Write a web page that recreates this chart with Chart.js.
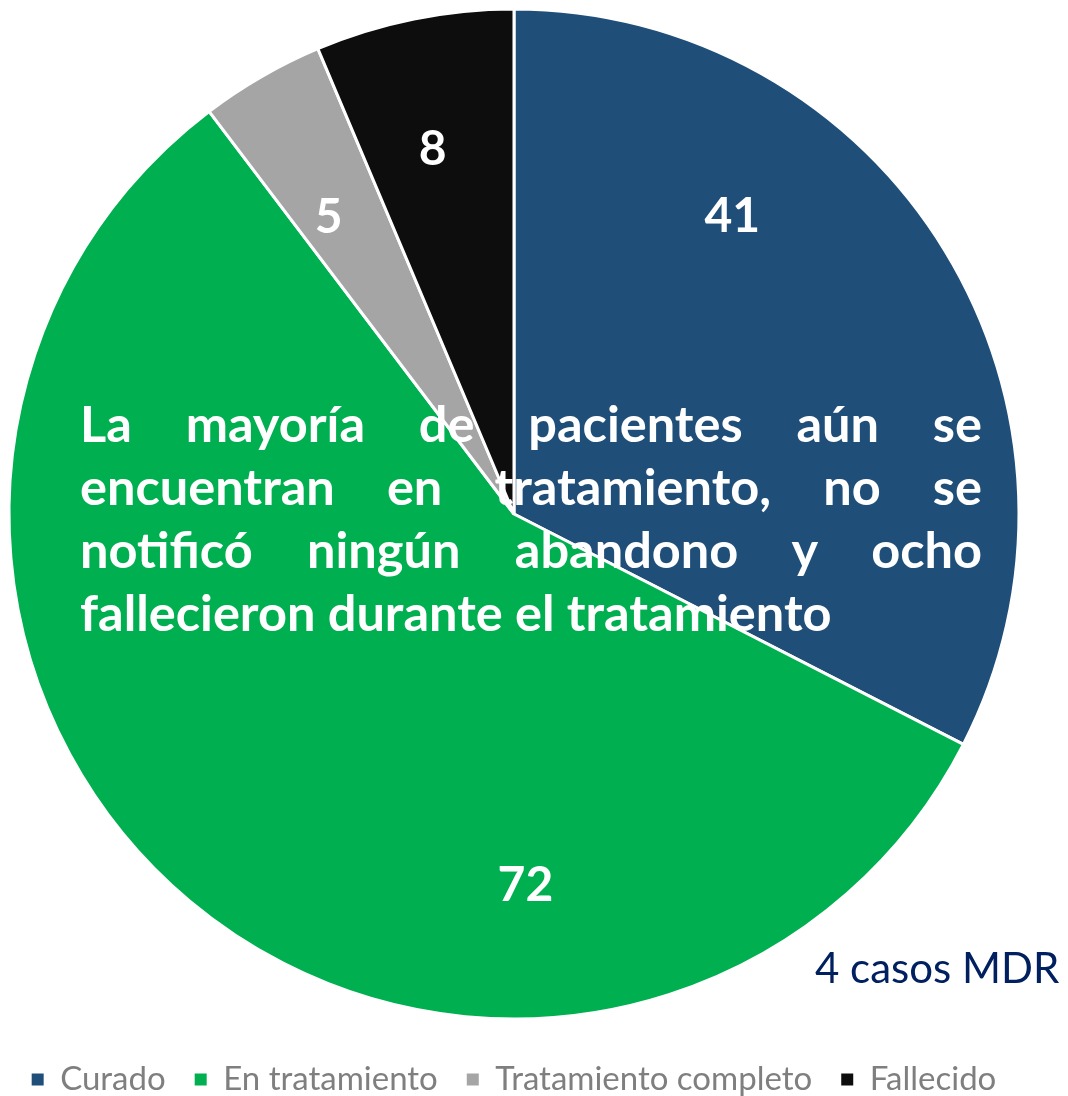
<!DOCTYPE html>
<html lang="es">
<head>
    <meta charset="UTF-8">
    <script src="https://cdn.jsdelivr.net/npm/chart.js"></script>
    <title>Resultado del tratamiento</title>
    <style>
        html, body { margin: 0; padding: 0; background: #fff; overflow: hidden; }
        .wrap { position: relative; width: 1068px; height: 1096px; overflow: hidden; }
        canvas { position: absolute; left: 0; top: -6px; }
        .nota {
            position: absolute; left: 80px; top: 391px; width: 902px;
            font-family: Lato, sans-serif; font-weight: bold; font-size: 50.5px;
            line-height: 63px; color: #fff;
        }
        .nota div { text-align: justify; text-align-last: justify; }
        .nota div.ultima { text-align: left; text-align-last: left; }
        .mdr {
            position: absolute; left: 815px; top: 946px;
            font-family: Lato, sans-serif; font-size: 42px; line-height: 42px;
            color: #002060; white-space: nowrap;
        }
    </style>
</head>
<body>
<div class="wrap">
    <canvas id="grafico" width="1068" height="1112"></canvas>
    <div class="nota">
        <div>La mayoría de pacientes aún se</div>
        <div>encuentran en tratamiento, no se</div>
        <div>notificó ningún abandono y ocho</div>
        <div class="ultima">fallecieron durante el tratamiento</div>
    </div>
    <div class="mdr">4 casos MDR</div>
</div>

<script>
    // Datos
    const categorias = ['Curado', 'En tratamiento', 'Tratamiento completo', 'Fallecido'];
    const pacientes = [41, 72, 5, 8];
    const colores = ['#1F4E79', '#00B050', '#A5A5A5', '#0D0D0D'];

    // Donde va cada número dentro de su porción
    const posAngulo = [0.31, 0.297, 0.36, 0.45];
    const posRadio = [0.73, 0.737, 0.693, 0.74];

    // Etiquetas de valores dentro de la torta
    const etiquetas = {
        id: 'etiquetas',
        afterDatasetsDraw(chart) {
            const ctx = chart.ctx;
            const arcos = chart.getDatasetMeta(0).data;
            ctx.save();
            ctx.fillStyle = '#fff';
            ctx.font = 'bold 48px Lato';
            ctx.textAlign = 'center';
            ctx.textBaseline = 'middle';
            arcos.forEach((arco, i) => {
                const a = arco.startAngle + (arco.endAngle - arco.startAngle) * posAngulo[i];
                const r = arco.outerRadius * posRadio[i];
                ctx.fillText(pacientes[i], arco.x + Math.cos(a) * r, arco.y + Math.sin(a) * r);
            });
            ctx.restore();
        }
    };

    new Chart(document.getElementById('grafico'), {
        type: 'pie',
        data: {
            labels: categorias,
            datasets: [{
                data: pacientes,
                backgroundColor: colores,
                borderColor: '#fff',
                borderWidth: 3,
                radius: 505
            }]
        },
        options: {
            responsive: false,
            animation: false,
            devicePixelRatio: 1,
            layout: { padding: { top: 0, left: 0, right: 40, bottom: 0 } },
            plugins: {
                tooltip: { enabled: false },
                legend: {
                    position: 'bottom',
                    labels: {
                        boxWidth: 12,
                        boxHeight: 12,
                        padding: 29,
                        color: '#7F7F7F',
                        font: { family: 'Lato', size: 33 },
                        // sin el borde blanco en los cuadritos
                        generateLabels(chart) {
                            return Chart.overrides.pie.plugins.legend.labels.generateLabels(chart)
                                .map(item => ({ ...item, lineWidth: 0 }));
                        }
                    }
                }
            }
        },
        plugins: [etiquetas]
    });
</script>
</body>
</html>
